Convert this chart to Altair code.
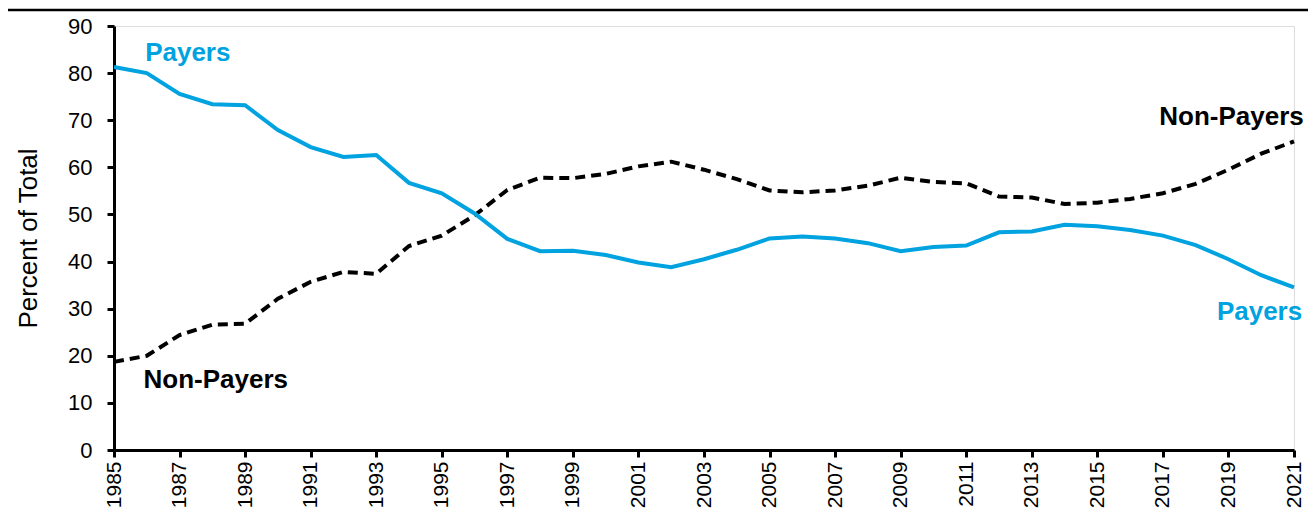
import altair as alt
import pandas as pd

years = list(range(1985, 2022))
payers = [81.3, 80.0, 75.6, 73.4, 73.2, 67.9, 64.3, 62.2, 62.6, 56.7,
          54.5, 50.2, 44.8, 42.2, 42.3, 41.4, 39.8, 38.8, 40.5, 42.5,
          44.9, 45.3, 44.9, 43.9, 42.2, 43.1, 43.4, 46.2, 46.4, 47.8,
          47.5, 46.7, 45.5, 43.5, 40.5, 37.1, 34.5]
non_payers = [18.7, 20.0, 24.4, 26.6, 26.8, 32.1, 35.7, 37.8, 37.4, 43.3,
              45.5, 49.8, 55.2, 57.8, 57.7, 58.6, 60.2, 61.2, 59.5, 57.5,
              55.1, 54.7, 55.1, 56.1, 57.8, 56.9, 56.6, 53.8, 53.6, 52.2,
              52.5, 53.3, 54.5, 56.5, 59.5, 62.9, 65.5]

label_left_text = ["Payers", "Non-Payers"]
label_left_year = [1985.95, 1985.9]
label_left_value = [84.3, 14.9]
label_left_color = ["#00A2E0", "#000000"]

label_right_text = ["Non-Payers", "Payers"]
label_right_year = [2021.3, 2021.25]
label_right_value = [70.7, 29.3]
label_right_color = ["#000000", "#00A2E0"]

df = pd.DataFrame({"year": years, "payers": payers, "non_payers": non_payers})
lab_l = pd.DataFrame({"text": label_left_text, "year": label_left_year,
                      "value": label_left_value, "color": label_left_color})
lab_r = pd.DataFrame({"text": label_right_text, "year": label_right_year,
                      "value": label_right_value, "color": label_right_color})

FONT = "Liberation Sans"

x_scale = alt.Scale(domain=[1985, 2021], nice=False, zero=False)
y_scale = alt.Scale(domain=[0, 90], nice=False)

x_axis = alt.Axis(
    values=years, format="d",
    labelExpr="datum.value % 2 == 1 ? datum.label : ''",
    labelAngle=270, labelFontSize=21, labelFont=FONT, labelColor="#000000",
    labelPadding=4, tickSize=7, tickWidth=3, tickColor="#000000",
    domainColor="#000000", domainWidth=3, grid=False, title=None,
    labelOverlap=False, labelBound=False, labelFlush=False,
)
y_axis = alt.Axis(
    values=list(range(0, 91, 10)),
    labelFontSize=22, labelFont=FONT, labelColor="#000000",
    labelPadding=15, tickSize=7, tickWidth=3, tickColor="#000000",
    domainColor="#000000", domainWidth=3, grid=False,
    title="Percent of Total", titleFont=FONT, titleFontSize=26,
    titleFontWeight="normal", titleColor="#000000",
    titleX=-86, titleY=212, titleAngle=270, titleAlign="center",
    titleBaseline="middle", labelOverlap=False, labelFlush=False,
)

base = alt.Chart(df)

pay_line = base.mark_line(color="#00A2E0", strokeWidth=4).encode(
    x=alt.X("year:Q", scale=x_scale, axis=x_axis),
    y=alt.Y("payers:Q", scale=y_scale, axis=y_axis),
)
non_line = base.mark_line(color="#000000", strokeWidth=4, strokeDash=[10, 6]).encode(
    x=alt.X("year:Q", scale=x_scale),
    y=alt.Y("non_payers:Q", scale=y_scale),
)

txt_l = alt.Chart(lab_l).mark_text(
    align="left", baseline="middle", font=FONT, fontSize=26, fontWeight="bold"
).encode(
    x=alt.X("year:Q", scale=x_scale),
    y=alt.Y("value:Q", scale=y_scale),
    text="text:N",
    color=alt.Color("color:N", scale=None),
)
txt_r = alt.Chart(lab_r).mark_text(
    align="right", baseline="middle", font=FONT, fontSize=26, fontWeight="bold"
).encode(
    x=alt.X("year:Q", scale=x_scale),
    y=alt.Y("value:Q", scale=y_scale),
    text="text:N",
    color=alt.Color("color:N", scale=None),
)

top_rule = alt.Chart(pd.DataFrame({"a": [0]})).mark_rule(
    color="#000000", strokeWidth=2.5
).encode(x=alt.value(-106), x2=alt.value(1194), y=alt.value(-16))

chart = alt.layer(non_line, pay_line, txt_l, txt_r, top_rule).properties(
    width=1180, height=424,
    autosize=alt.AutoSizeParams(type="none"),
    padding={"left": 106, "top": 18, "right": 14, "bottom": 58},
).configure_view(stroke=None).configure(background="white")

chart.save("out.html", embed_options={"renderer": "svg", "actions": False})
